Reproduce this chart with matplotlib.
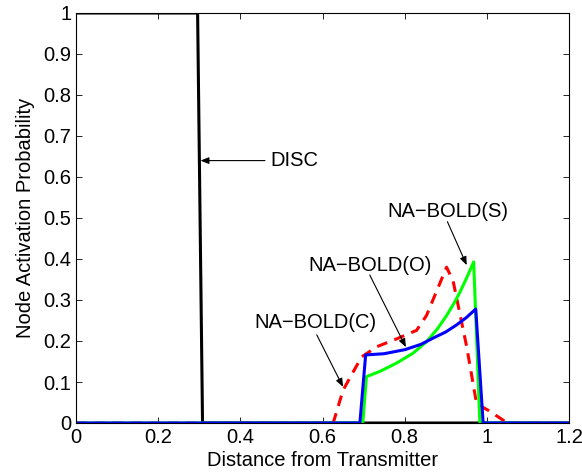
import numpy as np
import matplotlib
matplotlib.use('Agg')
import matplotlib.pyplot as plt

plt.rcParams['font.family'] = ['Liberation Sans', 'DejaVu Sans']

# ---- data ----
disc_x = [0.0, 0.296, 0.308, 1.2]
disc_y = [1.0, 1.0, 0.0, 0.0]

boldC_x = [0.0, 0.626, 0.650, 0.695, 0.732, 0.780, 0.829, 0.853, 0.902, 0.918,
           0.951, 0.975, 1.005, 1.032, 1.05, 1.2]
boldC_y = [0.0, 0.0, 0.080, 0.161, 0.186, 0.205, 0.226, 0.262, 0.380, 0.346,
           0.186, 0.047, 0.030, 0.012, 0.0, 0.0]

boldS_x = [0.0, 0.698, 0.707, 0.740, 0.780, 0.820, 0.853, 0.880, 0.902, 0.920,
           0.934, 0.950, 0.968, 0.983, 1.2]
boldS_y = [0.0, 0.0, 0.113, 0.126, 0.146, 0.170, 0.198, 0.230, 0.262, 0.292,
           0.318, 0.352, 0.393, 0.0, 0.0]

boldO_x = [0.0, 0.691, 0.705, 0.750, 0.801, 0.840, 0.869, 0.900, 0.926, 0.950,
           0.973, 0.991, 1.2]
boldO_y = [0.0, 0.0, 0.166, 0.169, 0.179, 0.192, 0.207, 0.222, 0.239, 0.257,
           0.278, 0.0, 0.0]

labels = ['DISC', 'NA\u2212BOLD(S)', 'NA\u2212BOLD(O)', 'NA\u2212BOLD(C)']
heads = [(0.303, 0.640), (0.951, 0.385), (0.803, 0.185), (0.650, 0.088)]
tails = [(0.460, 0.640), (0.904, 0.491), (0.715, 0.361), (0.586, 0.215)]
text_pos = [(0.472, 0.640), (0.905, 0.515), (0.715, 0.385), (0.582, 0.246)]
text_ha = ['left', 'center', 'center', 'center']

fig = plt.figure(figsize=(5.82, 4.76), dpi=100)
ax = fig.add_axes([76/582, 1-423/476, 493/582, 410/476])

ax.plot(disc_x, disc_y, color='black', lw=2.2)
ax.plot(boldC_x, boldC_y, color='red', lw=2.2, ls=(0, (3.5, 2.5)))
ax.plot(boldS_x, boldS_y, color='#00ff00', lw=2.2)
ax.plot(boldO_x, boldO_y, color='blue', lw=2.2)

for lab, h, t, p, ha in zip(labels, heads, tails, text_pos, text_ha):
    ax.annotate('', xy=h, xytext=t,
                arrowprops=dict(arrowstyle='-|>,head_length=0.5,head_width=0.2',
                                color='black', lw=0.8, shrinkA=0, shrinkB=0))
    ax.text(p[0], p[1], lab, ha=ha, va='center', fontsize=14.5)

ax.set_xlim(0, 1.2)
ax.set_ylim(0, 1)
ax.set_xticks(np.arange(0, 1.21, 0.2))
ax.set_xticklabels(['0', '0.2', '0.4', '0.6', '0.8', '1', '1.2'])
ax.set_yticks(np.arange(0, 1.01, 0.1))
ax.set_yticklabels(['0', '0.1', '0.2', '0.3', '0.4', '0.5', '0.6', '0.7', '0.8', '0.9', '1'])
ax.tick_params(direction='in', top=True, right=True, labelsize=14.5, length=4, width=0.6)
ax.set_xlabel('Distance from Transmitter', fontsize=14.5, labelpad=3)
ax.set_ylabel('Node Activation Probability', fontsize=14.5, labelpad=6)
for s in ax.spines.values():
    s.set_linewidth(0.8)

fig.savefig('out.png', dpi=100)
